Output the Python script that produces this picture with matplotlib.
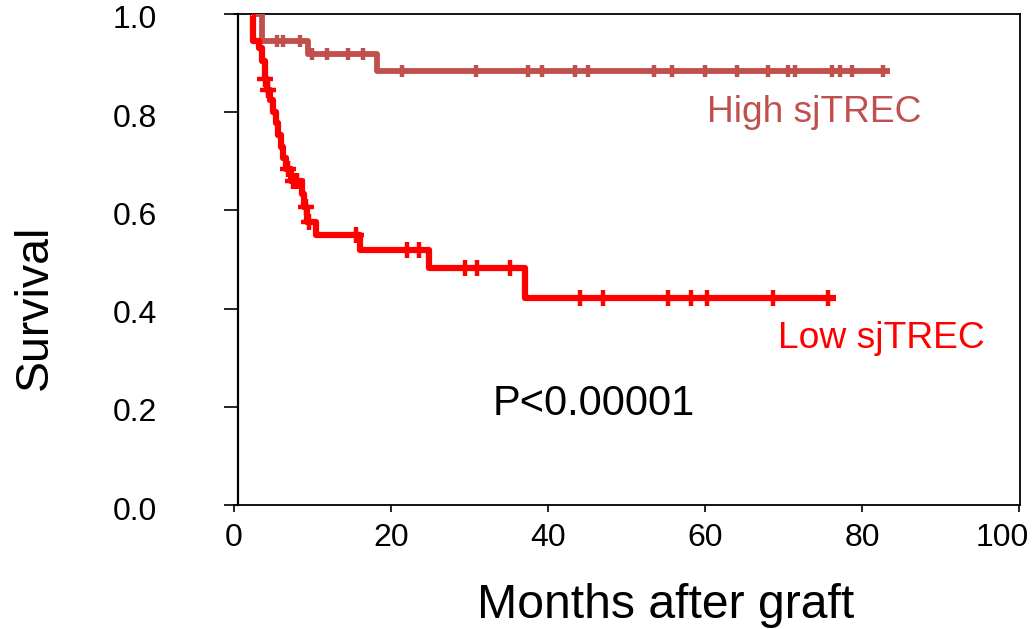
"""
Kaplan-Meier survival by sjTREC level after graft.
"""

import numpy as np
import matplotlib
matplotlib.use('Agg')
import matplotlib.pyplot as plt
from matplotlib.transforms import ScaledTranslation

plt.rcParams['font.family'] = ['Liberation Sans', 'DejaVu Sans']

HIGH_COLOR = '#C0504D'
LOW_COLOR = '#FF0000'

# High sjTREC: event times (months) and survival after each step
high_start = 2.3
high_event_t = [3.6, 9.4, 18.2]
high_event_s = [0.946, 0.919, 0.884]
high_end = 83.6
high_censor_t = [5.5, 6.3, 8.4, 9.9, 11.8, 14.5, 16.4,
                 21.4, 30.8, 37.5, 39.2, 43.4, 45.1, 53.5, 55.8, 60.0,
                 64.1, 68.0, 70.6, 71.5, 76.1, 77.2, 78.7, 82.7]

# Low sjTREC
low_start = 2.3
low_event_t = [2.4, 3.2, 3.6, 3.9, 4.2, 4.6, 5.0, 5.3, 5.6, 6.0, 6.3,
               6.6, 7.3, 8.6, 8.9, 9.3, 10.5, 16.0, 24.8, 37.1]
low_event_s = [0.946, 0.93, 0.905, 0.868, 0.846, 0.825, 0.80, 0.778, 0.754,
               0.73, 0.707, 0.685, 0.66, 0.633, 0.607, 0.577, 0.55, 0.519,
               0.482, 0.421]
low_end = 76.7
low_censor_t = [4.0, 4.3, 6.9, 7.5, 8.0, 9.2, 9.5, 15.5, 22.0, 23.6,
                29.4, 30.9, 35.2, 44.1, 47.0, 55.3, 58.2, 60.3, 68.7, 75.7]


def km_steps(start, event_t, event_s, end):
    t = np.array([start] + list(event_t) + [end])
    s = np.array([1.0] + list(event_s) + [event_s[-1]])
    return t, s


def surv_at(times, t, s):
    idx = np.searchsorted(t, times, side='right') - 1
    return s[idx]


fig = plt.figure(figsize=(10.35, 6.29), dpi=100)
ax = fig.add_axes([234 / 1035, 1 - 505 / 629, (1020 - 234) / 1035, (505 - 14) / 629])

for start, ev_t, ev_s, end, cens, color, lw, ms in [
        (high_start, high_event_t, high_event_s, high_end, high_censor_t, HIGH_COLOR, 4.2, 9),
        (low_start, low_event_t, low_event_s, low_end, low_censor_t, LOW_COLOR, 4.5, 12)]:
    t, s = km_steps(start, ev_t, ev_s, end)
    ax.step(t, s, where='post', color=color, lw=lw, solid_capstyle='butt', zorder=3)
    cens = np.array(cens)
    ax.plot(cens, surv_at(cens, t, s), ls='none', marker='+', ms=ms, mew=3.2,
            color=color, zorder=4)

ax.set_xlim(0, 100.1)
ax.set_ylim(0, 1.0)
ax.spines['left'].set_position(('data', 0.47))
for side in ['left', 'right', 'top', 'bottom']:
    ax.spines[side].set_linewidth(1.3)
ax.spines['left'].set_linewidth(1.6)

ax.set_xticks(np.arange(0, 101, 20))
ax.set_yticks(np.arange(0, 1.01, 0.2))
ax.set_yticklabels([f'{v:.1f}' for v in np.arange(0, 1.01, 0.2)])
ax.tick_params(axis='y', length=10, width=1.2, pad=48, labelsize=23)
ax.tick_params(axis='x', length=5, width=1.2, pad=8, labelsize=23)

# nudge y labels slightly down, keep the "100" inside the figure
for lab in ax.get_yticklabels():
    lab.set_transform(lab.get_transform() + ScaledTranslation(0, -0.03, fig.dpi_scale_trans))
last = ax.get_xticklabels()[-1]
last.set_transform(last.get_transform() + ScaledTranslation(-0.17, 0, fig.dpi_scale_trans))

ax.text(60.3, 0.781, 'High sjTREC', color=HIGH_COLOR, fontsize=26.7, va='baseline')
ax.text(69.3, 0.319, 'Low sjTREC', color=LOW_COLOR, fontsize=26.8, va='baseline')
ax.text(33.0, 0.184, 'P<0.00001', color='black', fontsize=30, va='baseline')

fig.text(666 / 1035, 1 - 605 / 629, 'Months after graft', fontsize=34.7,
         ha='center', va='center')
fig.text(35 / 1035, 1 - 307 / 629, 'Survival', fontsize=33.4, rotation=90,
         ha='center', va='center')

fig.savefig('out.png', dpi=100)
